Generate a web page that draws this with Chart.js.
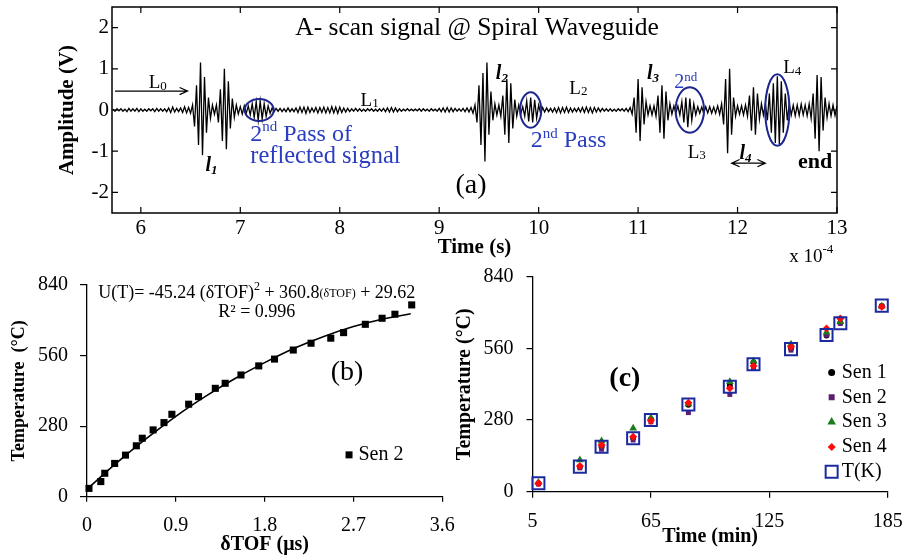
<!DOCTYPE html>
<html><head><meta charset="utf-8">
<script src="https://cdn.jsdelivr.net/npm/chart.js@4.4.0/dist/chart.umd.min.js"></script>
<style>
html,body{margin:0;padding:0;background:#fff;}
#wrap{position:relative;width:905px;height:560px;overflow:hidden;background:#fff;}
canvas{position:absolute;}
</style></head><body>
<div id="wrap">
<canvas id="cb" style="left:0px;top:270px" width="460" height="290"></canvas>
<canvas id="cc" style="left:450px;top:262px" width="455" height="298"></canvas>
<canvas id="ca" style="left:0px;top:0px" width="905" height="270"></canvas>
</div>
<script>
// ---------- DATA ----------
// (a) A-scan signal, sampled every 0.02 (x1e-4 s) from 5.72
const waveStart = 5.72;
const waveStep = 0.02;
const waveAmp = [
 0.02,-0.03,0.03,-0.02,0.03,-0.03,0.02,-0.04,0.04,-0.03,0.03,-0.03,0.04,-0.04,0.03,-0.03,0.02,-0.03,0.03,-0.02,0.03,-0.04,0.04,-0.03,0.03,
 -0.03,0.03,-0.04,0.05,-0.06,0.07,-0.05,0.04,-0.04,0.05,-0.06,0.08,-0.07,0.06,-0.08,0.12,-0.4,0.6,-0.85,1.15,-1.1,0.8,-0.55,0.3,-0.2,
 0.12,-0.1,0.12,-0.3,0.5,-0.75,1.0,-0.95,0.7,-0.45,0.28,-0.18,0.12,-0.1,0.08,-0.1,0.1,-0.08,0.1,-0.12,0.15,-0.18,0.2,-0.25,0.22,
 -0.22,0.15,-0.15,0.1,-0.08,0.05,-0.04,0.04,-0.03,0.04,-0.04,0.03,-0.04,0.05,-0.04,0.03,-0.04,0.05,-0.06,0.07,-0.06,0.07,-0.08,0.07,-0.06,
 0.05,-0.05,0.06,-0.07,0.06,-0.06,0.07,-0.07,0.06,-0.07,0.08,-0.07,0.07,-0.08,0.07,-0.06,0.05,-0.05,0.04,-0.04,0.03,-0.03,0.04,-0.03,0.03,
 -0.03,0.02,-0.03,0.03,-0.02,0.03,-0.03,0.02,-0.03,0.03,-0.03,0.04,-0.04,0.05,-0.05,0.06,-0.05,0.05,-0.04,0.03,-0.03,0.02,-0.02,0.03,-0.02,
 0.02,-0.02,0.02,-0.02,0.03,-0.03,0.03,-0.02,0.02,-0.03,0.03,-0.02,0.02,-0.03,0.04,-0.04,0.05,-0.05,0.06,-0.05,0.05,-0.04,0.04,-0.03,0.03,
 -0.03,0.04,-0.04,0.05,-0.05,0.06,-0.08,0.12,-0.3,0.6,-0.85,0.9,-1.25,1.15,-0.6,0.45,-0.25,0.15,-0.12,0.12,-0.15,0.35,-0.6,0.75,-0.8,
 0.65,-0.45,0.25,-0.15,0.12,-0.1,0.08,-0.15,0.22,-0.28,0.3,-0.3,0.25,-0.2,0.12,-0.08,0.06,-0.05,0.05,-0.04,0.04,-0.05,0.05,-0.06,0.06,
 -0.07,0.06,-0.06,0.07,-0.06,0.05,-0.05,0.04,-0.04,0.05,-0.05,0.06,-0.06,0.07,-0.06,0.06,-0.07,0.06,-0.05,0.05,-0.04,0.04,-0.03,0.03,-0.03,
 0.03,-0.03,0.02,-0.03,0.03,-0.02,0.03,-0.03,0.04,-0.04,0.06,-0.1,0.3,-0.55,0.75,-0.75,0.55,-0.35,0.2,-0.12,0.1,-0.12,0.1,-0.15,0.35,
 -0.55,0.6,-0.7,0.45,-0.25,0.15,-0.1,0.1,-0.08,0.1,-0.12,0.2,-0.3,0.3,-0.42,0.28,-0.25,0.15,-0.12,0.08,-0.08,0.07,-0.08,0.08,-0.07,
 0.08,-0.08,0.07,-0.08,0.1,-0.1,0.15,-0.35,0.75,-1.05,1.0,-0.6,0.3,-0.15,0.1,-0.1,0.1,-0.12,0.12,-0.15,0.35,-0.5,0.55,-0.6,0.4,
 -0.22,0.15,-0.12,0.15,-0.25,0.4,-0.55,0.65,-0.8,0.82,-0.83,0.7,-0.55,0.4,-0.25,0.15,-0.12,0.12,-0.14,0.12,-0.13,0.14,-0.12,0.12,-0.14,
 0.15,-0.2,0.4,-0.7,0.85,-1.0,0.8,-0.5,0.3,-0.18,0.15,-0.14,0.12,-0.13,0.1
];
const aXTicks = [6, 7, 8, 9, 10, 11, 12, 13];
const aYTicks = [-2, -1, 0, 1, 2];

// (b) temperature vs delta TOF (Sen 2) and fitted curve
const bDtof = [0.02,0.14,0.18,0.28,0.39,0.50,0.56,0.67,0.78,0.86,1.03,1.13,1.30,1.40,1.56,1.74,1.90,2.09,2.27,2.47,2.60,2.82,2.99,3.12,3.29];
const bTemp = [33,60,93,132,165,202,232,265,294,327,367,397,430,450,483,519,546,582,609,629,651,684,708,724,761];
const fitDtof = [0, 0.3, 0.6, 0.9, 1.2, 1.5, 1.8, 2.1, 2.4, 2.7, 3.0, 3.28];
const fitTemp = [30, 134, 230, 319, 398, 469, 532, 589, 636, 675, 705, 726];
const bXTicks = [0, 0.9, 1.8, 2.7, 3.6];
const bYTicks = [0, 280, 560, 840];

// (c) temperature vs time for sensors
const cTime = [8, 29, 40, 56, 65, 84, 105, 117, 136, 154, 161, 182];
const sen1 = [33, 97, 175, 210, 283, 340, 415, 505, 560, 610, 660, 726];
const sen2 = [30, 93, 166, 202, 273, 309, 380, 482, 553, 612, 658, 723];
const sen3 = [36, 124, 198, 248, 289, 343, 430, 510, 576, 623, 664, 725];
const sen4 = [33, 100, 182, 215, 277, 348, 404, 491, 566, 638, 677, 723];
const tK   = [33, 98, 176, 209, 280, 341, 410, 498, 557, 612, 658, 727];
const cXTicks = [5, 65, 125, 185];
const cYTicks = [0, 280, 560, 840];

// ---------- HELPERS ----------
const SERIF = '"Liberation Serif","Times New Roman",serif';
function F(size, weight, style){ return (style||'normal')+' '+(weight||'normal')+' '+size+'px '+SERIF; }
function fnt(size, weight){ return {family: SERIF, size: size, weight: weight||'normal'}; }
function fixTicks(arr){ return function(s){ s.ticks = arr.map(v => ({value: v})); }; }
function fitW(w){ return function(s){ s.width = w; s.paddingTop = 0; s.paddingBottom = 0; }; }
function fitH(h){ return function(s){ s.height = h; s.paddingLeft = 0; s.paddingRight = 0; }; }

function drawRich(ctx, x, y, parts, align, color){
  let w = 0;
  parts.forEach(p => { ctx.font = p[1]; p.w = ctx.measureText(p[0]).width; w += p.w; });
  let cx = align === 'left' ? x : (align === 'right' ? x - w : x - w/2);
  ctx.textBaseline = 'middle'; ctx.textAlign = 'left'; ctx.fillStyle = color;
  parts.forEach(p => { ctx.font = p[1]; ctx.fillText(p[0], cx, y + (p[2]||0)); cx += p.w; });
}
function drawMarker(ctx, kind, x, y, s, color, lw){
  ctx.beginPath();
  if (kind === 'circle') { ctx.arc(x, y, s, 0, Math.PI*2); }
  else if (kind === 'rect' || kind === 'box') { ctx.rect(x - s, y - s, 2*s, 2*s); }
  else if (kind === 'triangle') { ctx.moveTo(x, y - s); ctx.lineTo(x + s*0.866, y + s*0.5); ctx.lineTo(x - s*0.866, y + s*0.5); ctx.closePath(); }
  else if (kind === 'diamond') { ctx.moveTo(x, y - s); ctx.lineTo(x + s, y); ctx.lineTo(x, y + s); ctx.lineTo(x - s, y); ctx.closePath(); }
  if (kind === 'box') { ctx.strokeStyle = color; ctx.lineWidth = lw || 2; ctx.stroke(); }
  else { ctx.fillStyle = color; ctx.fill(); }
}
function arrowHead(ctx, x, y, dir, len){
  ctx.moveTo(x - dir*len, y - len*0.45); ctx.lineTo(x, y); ctx.lineTo(x - dir*len, y + len*0.45);
}
function notesPlugin(id, items){
  return { id: id, afterDatasetsDraw(chart){
    const ctx = chart.ctx, xs = chart.scales.x, ys = chart.scales.y;
    ctx.save();
    items.forEach(it => {
      const px = xs.getPixelForValue(it.x), py = ys.getPixelForValue(it.y);
      if (it.type === 'text') {
        drawRich(ctx, px, py, it.parts, it.align || 'center', it.color || '#000');
      } else if (it.type === 'ellipse') {
        const rx = Math.abs(xs.getPixelForValue(it.x + it.rx) - px);
        const ry = Math.abs(ys.getPixelForValue(it.y + it.ry) - py);
        ctx.beginPath(); ctx.ellipse(px, py, rx, ry, 0, 0, Math.PI*2);
        ctx.strokeStyle = it.color; ctx.lineWidth = it.lw || 2; ctx.stroke();
      } else if (it.type === 'arrow') {
        const px2 = xs.getPixelForValue(it.x2), py2 = ys.getPixelForValue(it.y2);
        ctx.beginPath(); ctx.moveTo(px, py); ctx.lineTo(px2, py2);
        arrowHead(ctx, px2, py2, 1, 8);
        if (it.both) arrowHead(ctx, px, py, -1, 8);
        ctx.strokeStyle = '#000'; ctx.lineWidth = 1.2; ctx.stroke();
      } else if (it.type === 'marker') {
        drawMarker(ctx, it.kind, px, py, it.s, it.color, it.lw);
      }
    });
    ctx.restore();
  }};
}
const boxPlugin = { id: 'boxA', afterDraw(chart){
  const ctx = chart.ctx, a = chart.chartArea, xs = chart.scales.x, ys = chart.scales.y;
  ctx.save(); ctx.strokeStyle = '#000'; ctx.lineWidth = 1.5;
  ctx.strokeRect(a.left, a.top, a.right - a.left, a.bottom - a.top);
  ctx.lineWidth = 1.2; ctx.beginPath();
  xs.ticks.forEach(t => { const p = xs.getPixelForValue(t.value);
    ctx.moveTo(p, a.bottom); ctx.lineTo(p, a.bottom - 6); ctx.moveTo(p, a.top); ctx.lineTo(p, a.top + 6); });
  ys.ticks.forEach(t => { const p = ys.getPixelForValue(t.value);
    ctx.moveTo(a.left, p); ctx.lineTo(a.left + 6, p); ctx.moveTo(a.right, p); ctx.lineTo(a.right - 6, p); });
  ctx.stroke(); ctx.restore();
}};

Chart.defaults.color = '#000';
const BLUE_T = '#2a3cc0', BLUE_E = '#1c2590';

// ---------- (a) ----------
const wavePts = waveAmp.map((v, i) => ({x: waveStart + i*waveStep, y: v}));
const notesA = [
  {type:'text', x:9.38, y:1.98, parts:[['A- scan signal @ Spiral Waveguide', F(25.5)]]},
  {type:'arrow', x:5.74, y:0.46, x2:6.47, y2:0.46},
  {type:'text', x:6.17, y:0.65, parts:[['L', F(19)], ['0', F(13), 3]]},
  {type:'text', x:6.71, y:-1.35, parts:[['l', F(20,'bold','italic')], ['1', F(13,'bold','italic'), 5]]},
  {type:'ellipse', x:7.19, y:0, rx:0.146, ry:0.265, color:BLUE_E},
  {type:'text', x:7.10, y:-0.59, align:'left', color:BLUE_T, parts:[['2', F(24)], ['nd', F(15), -7], [' Pass of', F(24)]]},
  {type:'text', x:7.10, y:-1.13, align:'left', color:BLUE_T, parts:[['reflected signal', F(24.5)]]},
  {type:'text', x:8.30, y:0.22, parts:[['L', F(19)], ['1', F(13), 3]]},
  {type:'text', x:9.63, y:0.89, parts:[['l', F(20,'bold','italic')], ['2', F(13,'bold','italic'), 5]]},
  {type:'ellipse', x:9.92, y:0, rx:0.106, ry:0.43, color:BLUE_E},
  {type:'text', x:9.92, y:-0.75, align:'left', color:BLUE_T, parts:[['2', F(24)], ['nd', F(15), -7], [' Pass', F(24)]]},
  {type:'text', x:10.40, y:0.51, parts:[['L', F(19)], ['2', F(13), 3]]},
  {type:'text', x:11.15, y:0.89, parts:[['l', F(20,'bold','italic')], ['3', F(13,'bold','italic'), 5]]},
  {type:'text', x:11.48, y:0.65, color:BLUE_T, parts:[['2', F(20)], ['nd', F(13), -6]]},
  {type:'ellipse', x:11.52, y:0, rx:0.143, ry:0.55, color:BLUE_E},
  {type:'text', x:11.59, y:-1.04, parts:[['L', F(19)], ['3', F(13), 3]]},
  {type:'text', x:12.08, y:-1.06, parts:[['l', F(20,'bold','italic')], ['4', F(13,'bold','italic'), 5]]},
  {type:'arrow', x:11.94, y:-1.29, x2:12.28, y2:-1.29, both:true},
  {type:'ellipse', x:12.40, y:0, rx:0.122, ry:0.87, color:BLUE_E},
  {type:'text', x:12.55, y:1.01, parts:[['L', F(19)], ['4', F(13), 3]]},
  {type:'text', x:12.78, y:-1.27, parts:[['end', F(22,'bold')]]},
  {type:'text', x:9.32, y:-1.83, parts:[['(a)', F(28)]]},
  {type:'text', x:12.52, y:-3.57, align:'left', parts:[['x 10', F(19)], ['-4', F(13), -8]]}
];
new Chart(document.getElementById('ca'), {
  type: 'line',
  data: { datasets: [{ data: wavePts, borderColor:'#000', borderWidth:1.3, pointRadius:0, tension:0, fill:false }] },
  options: {
    responsive:false, animation:false, devicePixelRatio:1, events:[], parsing:false,
    layout:{padding:{left:0, right:68, top:7, bottom:0}},
    plugins:{legend:{display:false}, tooltip:{enabled:false}},
    scales:{
      x:{type:'linear', min:5.71, max:13, afterBuildTicks:fixTicks(aXTicks),
         ticks:{autoSkip:false, maxRotation:0, padding:3, color:'#000', font:fnt(21), callback:v=>String(v)},
         grid:{display:false, drawTicks:false}, border:{display:false},
         title:{display:true, text:'Time (s)', color:'#000', font:fnt(21,'bold'), padding:{top:0, bottom:10}},
         afterFit:fitH(57)},
      y:{type:'linear', min:-2.5, max:2.5, afterBuildTicks:fixTicks(aYTicks),
         ticks:{autoSkip:false, padding:3, color:'#000', font:fnt(21), callback:v=>String(v)},
         grid:{display:false, drawTicks:false}, border:{display:false},
         title:{display:true, text:'Amplitude (V)', color:'#000', font:fnt(21,'bold'), padding:{top:55, bottom:0}},
         afterFit:fitW(112)}
    }
  },
  plugins:[boxPlugin, notesPlugin('notesA', notesA)]
});

// ---------- (b) ----------
const notesB = [
  {type:'text', x:1.72, y:808, parts:[['U(T)= -45.24 (δTOF)', F(18)], ['2', F(12), -6], [' + 360.8', F(18)], ['(δTOF)', F(12), 1], [' + 29.62', F(18)]]},
  {type:'text', x:1.72, y:733, parts:[['R² = 0.996', F(18)]]},
  {type:'text', x:2.635, y:491, parts:[['(b)', F(28)]]},
  {type:'marker', kind:'rect', x:2.655, y:166, s:3.5, color:'#000'},
  {type:'text', x:2.75, y:166, align:'left', parts:[['Sen 2', F(20)]]}
];
const axisGrid = (len) => ({display:true, drawOnChartArea:false, drawTicks:true, tickLength:len, color:'#000', lineWidth:1.2});
new Chart(document.getElementById('cb'), {
  type: 'scatter',
  data: { datasets: [
    { data: bDtof.map((x,i)=>({x:x, y:bTemp[i]})), pointStyle:'rect', pointRadius:5, backgroundColor:'#000', borderColor:'#000', borderWidth:0, clip:false },
    { data: fitDtof.map((x,i)=>({x:x, y:fitTemp[i]})), showLine:true, borderColor:'#000', borderWidth:1.6, pointRadius:0, cubicInterpolationMode:'monotone', fill:false }
  ]},
  options: {
    responsive:false, animation:false, devicePixelRatio:1, events:[],
    layout:{padding:{left:0, right:17.7, top:15, bottom:0}},
    plugins:{legend:{display:false}, tooltip:{enabled:false}},
    scales:{
      x:{type:'linear', min:0, max:3.6, afterBuildTicks:fixTicks(bXTicks),
         ticks:{autoSkip:false, maxRotation:0, padding:12, color:'#000', font:fnt(20), callback:v=>String(v)},
         grid:axisGrid(5), border:{display:true, color:'#000', width:1.3},
         title:{display:true, text:'δTOF (μs)', color:'#000', font:fnt(20,'bold'), padding:{top:0, bottom:3}},
         afterFit:fitH(63.3)},
      y:{type:'linear', min:0, max:840, afterBuildTicks:fixTicks(bYTicks),
         ticks:{autoSkip:false, padding:12, color:'#000', font:fnt(20), callback:v=>String(v)},
         grid:axisGrid(7), border:{display:true, color:'#000', width:1.3},
         title:{display:true, text:'Temperature  (°C)', color:'#000', font:fnt(18,'bold'), padding:{top:9, bottom:0}},
         afterFit:fitW(87)}
    }
  },
  plugins:[notesPlugin('notesB', notesB)]
});

// ---------- (c) ----------
const C_PURPLE = '#5c1f70', C_GREEN = '#1b7d1b', C_RED = '#ff0a0a', C_BLUE = '#1c2aa0';
const notesC = [
  {type:'text', x:51.8, y:442, parts:[['(c)', F(28,'bold')]]},
  {type:'marker', kind:'circle', x:156.6, y:466, s:3.5, color:'#000'},
  {type:'text', x:161.7, y:466, align:'left', parts:[['Sen 1', F(20)]]},
  {type:'marker', kind:'rect', x:156.6, y:369, s:3, color:C_PURPLE},
  {type:'text', x:161.7, y:369, align:'left', parts:[['Sen 2', F(20)]]},
  {type:'marker', kind:'triangle', x:156.6, y:272, s:5, color:C_GREEN},
  {type:'text', x:161.7, y:272, align:'left', parts:[['Sen 3', F(20)]]},
  {type:'marker', kind:'diamond', x:156.6, y:175, s:4, color:C_RED},
  {type:'text', x:161.7, y:175, align:'left', parts:[['Sen 4', F(20)]]},
  {type:'marker', kind:'box', x:156.6, y:78, s:6, color:C_BLUE, lw:2},
  {type:'text', x:161.7, y:78, align:'left', parts:[['T(K)', F(20)]]}
];
const pts = (arr) => cTime.map((t,i)=>({x:t, y:arr[i]}));
new Chart(document.getElementById('cc'), {
  type: 'scatter',
  data: { datasets: [
    { label:'T(K)', data: pts(tK), pointStyle:'rect', pointRadius:8.5, backgroundColor:'rgba(0,0,0,0)', borderColor:C_BLUE, borderWidth:2, clip:false },
    { label:'Sen 4', data: pts(sen4), pointStyle:'rectRot', pointRadius:4, backgroundColor:C_RED, borderWidth:0, clip:false },
    { label:'Sen 3', data: pts(sen3), pointStyle:'triangle', pointRadius:4.5, backgroundColor:C_GREEN, borderWidth:0, clip:false },
    { label:'Sen 2', data: pts(sen2), pointStyle:'rect', pointRadius:3.5, backgroundColor:C_PURPLE, borderWidth:0, clip:false },
    { label:'Sen 1', data: pts(sen1), pointStyle:'circle', pointRadius:3, backgroundColor:'#000', borderWidth:0, clip:false }
  ]},
  options: {
    responsive:false, animation:false, devicePixelRatio:1, events:[],
    layout:{padding:{left:0, right:17.3, top:14.7, bottom:0}},
    plugins:{legend:{display:false}, tooltip:{enabled:false}},
    scales:{
      x:{type:'linear', min:5, max:185, afterBuildTicks:fixTicks(cXTicks),
         ticks:{autoSkip:false, maxRotation:0, padding:12, color:'#000', font:fnt(20), callback:v=>String(v)},
         grid:axisGrid(6), border:{display:true, color:'#000', width:1.3},
         title:{display:true, text:'Time (min)', color:'#000', font:fnt(20,'bold'), padding:{top:0, bottom:11}},
         afterFit:fitH(68.3)},
      y:{type:'linear', min:0, max:840, afterBuildTicks:fixTicks(cYTicks),
         ticks:{autoSkip:false, padding:13, color:'#000', font:fnt(20), callback:v=>String(v)},
         grid:axisGrid(6), border:{display:true, color:'#000', width:1.3},
         title:{display:true, text:'Temperature (°C)', color:'#000', font:fnt(20,'bold'), padding:{top:3, bottom:0}},
         afterFit:fitW(82.5)}
    }
  },
  plugins:[notesPlugin('notesC', notesC)]
});
</script>
</body></html>
